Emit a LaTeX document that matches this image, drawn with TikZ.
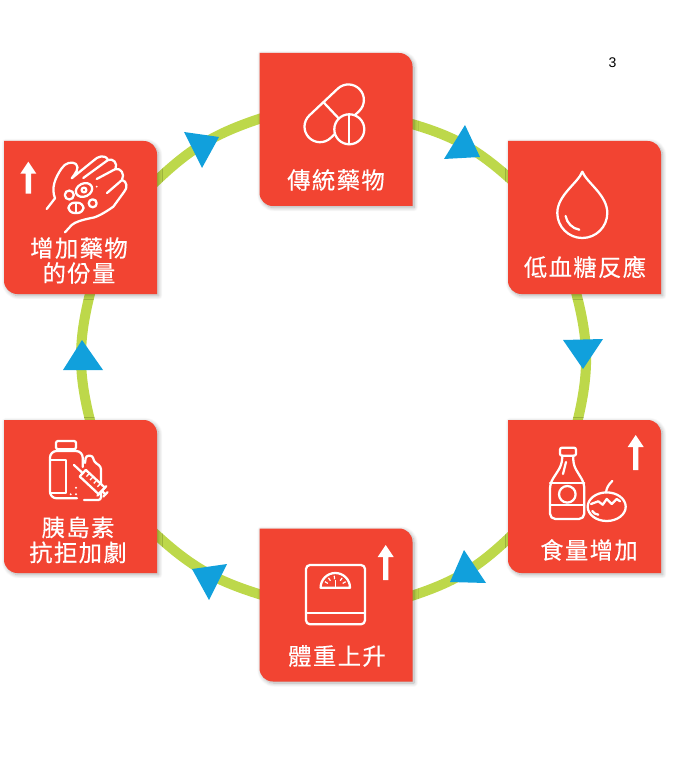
\documentclass[tikz,border=0pt]{standalone}
\usepackage{fontspec}
\usepackage{xcolor}
\usetikzlibrary{shadows.blur}
\newfontfamily\cardfont[LetterSpace=6,FakeBold=0.3]{Noto Sans CJK TC}
\newfontfamily\pagefont{Liberation Sans}
\definecolor{cardred}{RGB}{242,68,50}
\definecolor{ringgreen}{RGB}{189,216,74}
\definecolor{tipblue}{RGB}{17,160,220}
\tikzset{
  cardbox/.style={minimum width=114.75pt,minimum height=114.75pt,inner sep=0pt,outer sep=0pt},
  cardfill/.style={fill=cardred,blur shadow={shadow xshift=1.2pt,shadow yshift=-1.2pt,shadow blur radius=3pt,shadow blur steps=10,shadow opacity=32}},
  cardtext/.style={text=white,inner sep=0pt,align=center,font=\cardfont\fontsize{17.5}{18.75}\selectfont},
  ringline/.style={color=ringgreen,line width=7.5pt,shorten <=-4pt,shorten >=-4pt},
  tipfill/.style={fill=tipblue},
  iconline/.style={draw=white,line width=1.7pt,line cap=round,line join=round},
  iconcover/.style={iconline,fill=cardred},
}
\newcommand{\redcard}[1]{\path[cardfill] (#1.north west) [rounded corners=10pt] -- (#1.north east) [sharp corners] -- (#1.south east) [rounded corners=10pt] -- (#1.south west) [sharp corners] -- cycle;}
\begin{document}
\begin{tikzpicture}[x=0.75pt,y=0.75pt,yscale=-1,xscale=1]
\useasboundingbox (0,0) rectangle (673,773);

% Card Nodes
\node (cardPill) at (336,129.5) [cardbox] {};
\node (cardDrop) at (584.5,217.5) [cardbox] {};
\node (cardFood) at (584.5,496.5) [cardbox] {};
\node (cardScale) at (336,605) [cardbox] {};
\node (cardVial) at (80.5,496.5) [cardbox] {};
\node (cardHand) at (80.5,217.5) [cardbox] {};

% Ring segments
\foreach \from/\to/\bend in {cardPill.4/cardDrop.152.7/13,cardDrop.264.4/cardFood.95.6/14.5,cardFood.209.6/cardScale.7.5/13,cardScale.172.5/cardVial.-27.9/13,cardVial.83/cardHand.277/14.5,cardHand.26/cardPill.172.9/13}
  \draw [ringline] (\from) to [bend right=\bend] (\to);

% Direction triangles
\fill [tipfill] (465,125) -- (480,157) -- (444,159) -- cycle;
\fill [tipfill] (603,339) -- (583,369) -- (563,340) -- cycle;
\fill [tipfill] (464,550) -- (486,583) -- (450,582) -- cycle;
\fill [tipfill] (227,564) -- (209,600) -- (192,569) -- cycle;
\fill [tipfill] (82,340) -- (103,370) -- (63,370) -- cycle;
\fill [tipfill] (184,132) -- (219,137) -- (202,168) -- cycle;

% Rounded Rect
\foreach \card in {cardPill,cardDrop,cardFood,cardScale,cardVial,cardHand}
  {\redcard{\card}}

% Up arrows
\foreach \x/\y/\len in {28.3/161.7/32,635.7/435/35,385.7/545/35}
  \fill [white] (\x,\y) -- (\x+8,\y+12) -- (\x+2.7,\y+12) -- (\x+2.7,\y+\len) -- (\x-2.7,\y+\len) -- (\x-2.7,\y+12) -- (\x-8,\y+12) -- cycle;

% Capsule and tablet
\begin{scope}[shift={(320,126.7)},rotate=-43.3]
\draw [iconline] (0,15.5) arc (90:270:15.5) -- (39,-15.5) arc (-90:90:15.5) -- cycle;
\draw [iconline] (19.3,-15.5) -- (19.3,15.5);
\end{scope}
\draw [iconcover] (349.3,129.3) circle (15);
\draw [iconline] (349.3,114.3) -- (349.3,144.3);

% Drop
\draw [iconline] (582.3,171.7) .. controls (578,183) and (557.3,195) .. (557.3,213) arc (180:0:25) .. controls (607.3,195) and (587,183) .. cycle;
\draw [iconline] (565.6,216) arc (170:100:16.9);

% Bottle
\draw [iconline,rounded corners=1.5pt] (560,447.7) rectangle (576,455.7);
\draw [iconline,rounded corners=4pt] (562.3,455.7) -- (561.7,465) -- (550,483.3) -- (550,519) -- (584.3,519) -- (584.3,483.3) -- (573.3,465) -- (573.3,455.7);
\draw [iconline] (550,483.3) -- (584.3,483.3);
\draw [iconline] (550,505) -- (584.3,505);
\draw [iconline] (567.3,494.3) circle (8.3);
\draw [iconline] (566,462) -- (563,474);
% Tomato
\draw [iconline] (606.7,506.7) ellipse (19 and 14.3);
\draw [iconline] (606,492.4) .. controls (606.5,488) and (608.5,484.5) .. (612.3,481);
\draw [iconline] (591,504) -- (598.3,501.3) -- (602.7,504.7) -- (606.7,499) -- (611.7,504) -- (616.7,499) -- (620,501.3);
\draw [iconline] (592.3,511) .. controls (593.5,513) and (595.5,514.5) .. (598.3,514.7);

% Bathroom scale
\draw [iconline,rounded corners=3pt] (306,565) rectangle (365,624.3);
\draw [iconline] (306,613.3) -- (365,613.3);
\draw [iconline] (320.6,587.7) arc (180:360:14.7) -- cycle;
\foreach \ang in {210,235,265,305,330}
  \draw [white,line width=0.9pt] (335.3,587.7) ++(\ang:8.5) -- ++(\ang:3.5);
\draw [white,line width=1.2pt] (335.3,587.7) -- (335.3,580);

% Vials and syringe
\draw [iconline,rounded corners=1.5pt] (56,441) rectangle (76,449.3);
\draw [iconline,rounded corners=5pt] (77,498.3) -- (50,498.3) -- (50,451) -- (82.7,451) -- (82.7,467);
\draw [iconline] (50,460) -- (66,460) -- (66,493.3) -- (50,493.3);
\draw [iconline,rounded corners=2pt] (85,463) -- (86,455.7) -- (92.7,455.7) -- (94,461.7) -- (101,466.7) -- (101,500) -- (84,500);
\fill [white] (76,487.7) circle (1.1) (70.7,494.3) circle (1.1) (76,494.3) circle (1.1);
\begin{scope}[shift={(74,465)},rotate=43]
\draw [iconline] (0,0) -- (12,0);
\draw [iconcover] (12,-4.5) rectangle (38,4.5);
\foreach \t in {17,22,27,32}
  \draw [white,line width=1pt] (\t,-4.5) -- (\t,0);
\draw [iconline] (38,-6.5) -- (38,6.5);
\draw [iconline] (38,0) -- (43,0);
\draw [iconline] (43,-3) -- (43,3);
\end{scope}

% Hand with pills
\draw [iconline] (46.7,209) -- (55,198.3) .. controls (51,188) and (55,178) .. (61.7,168.3) .. controls (65,163) and (72,161) .. (76,164) .. controls (80,168) and (75,174) .. (71.7,178.3) -- (93,161) .. controls (98,156) and (105,154) .. (108,160) .. controls (113,158) and (118,163) .. (115.5,169) .. controls (121,168) and (125,174) .. (122,180) .. controls (127,181) and (128,188) .. (124,192) -- (113.3,206.7) .. controls (103,214) and (95,218) .. (90,218.3) .. controls (82,220) and (75,222) .. (71.7,225) -- (65,232.3);
\draw [iconline] (83.3,178) -- (108,160);
\draw [iconline] (96.7,179) -- (115.5,169);
\draw [iconline] (107,193) -- (122,180);
\draw [iconcover] (69.3,195) circle (4.5);
\draw [iconline,rotate around={-25:(84,190)}] (84,190) ellipse (8.5 and 6.5);
\draw [iconline] (84,190) circle (2.4);
\draw [iconline,rounded corners=4.5pt] (68.5,202.7) rectangle (83.5,213);
\draw [iconline] (76,202.7) -- (76,213);
\draw [iconline] (92.7,203.3) circle (4);
\fill [white] (96.7,186.7) circle (1);

% Text Node
\node (lblPill) at (336,180) [cardtext] {傳統藥物};
% Text Node
\node (lblDrop) at (585,267) [cardtext] {低血糖反應};
% Text Node
\node (lblFood) at (589,550) [cardtext] {食量增加};
% Text Node
\node (lblScale) at (337,656) [cardtext] {體重上升};
% Text Node
\node (lblVial) at (78,540) [cardtext] {胰島素\\抗拒加劇};
% Text Node
\node (lblHand) at (79,260.5) [cardtext] {增加藥物\\的份量};
% Text Node
\node (pageNum) at (612.5,63) [inner sep=0pt,font=\pagefont\fontsize{10.5}{12}\selectfont] {3};

\end{tikzpicture}
\end{document}
